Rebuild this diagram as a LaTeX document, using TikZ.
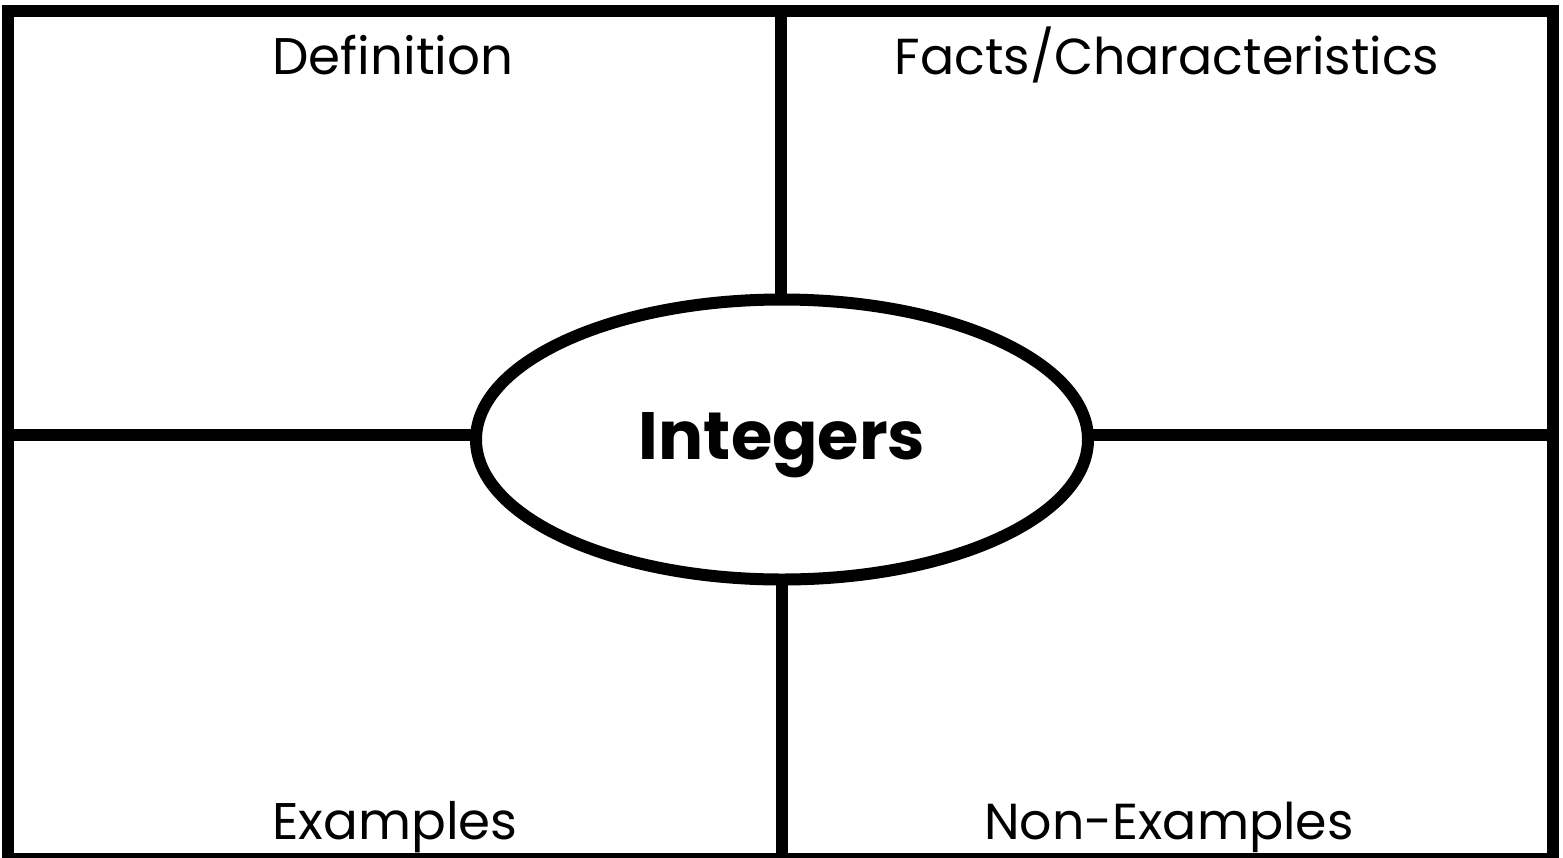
\documentclass[tikz,border=0pt]{standalone}
\usepackage{fontspec}
\setmainfont{Poppins}
\usetikzlibrary{shapes.geometric}
\begin{document}
\begin{tikzpicture}[x=1pt,y=-1pt,
  rule/.style={line width=12pt,draw=black},
  label/.style={font=\fontsize{51.5}{60}\selectfont,anchor=base,inner sep=0pt},
  narrow/.style={font=\fontsize{50.6}{60}\selectfont},
  title/.style={font=\fontsize{67}{75}\selectfont\bfseries,anchor=base,inner sep=0pt}]
\useasboundingbox (0,0) rectangle (1563,857);
\fill[white] (0,0) rectangle (1563,857);
% frame
\draw[rule] (8,11) rectangle (1553,859);
% central ellipse
\node[ellipse,rule,minimum width=612pt,minimum height=280pt,inner sep=0pt,outer sep=0pt] (ell) at (782,439.5) {};
\node[title] (tt) at (782,459) {Integers};
% connectors
\coordinate (T) at (780.5,11);
\coordinate (B) at (782,859);
\coordinate (L) at (8,435);
\coordinate (R) at (1553,435);
\draw[rule] (T) -- (T |- ell.north);
\draw[rule] (B) -- (B |- ell.south);
\draw[rule] (L) -- (L -| ell.west);
\draw[rule] (R) -- (R -| ell.east);
% labels
\node[label] (def) at (393,74) {Definition};
\node[label,narrow] (fac) at (1167,74) {Facts/Characteristics};
\node[label] (ex) at (395,839) {Examples};
\node[label,narrow] (nex) at (1169,839) {Non-Examples};
\end{tikzpicture}
\end{document}
